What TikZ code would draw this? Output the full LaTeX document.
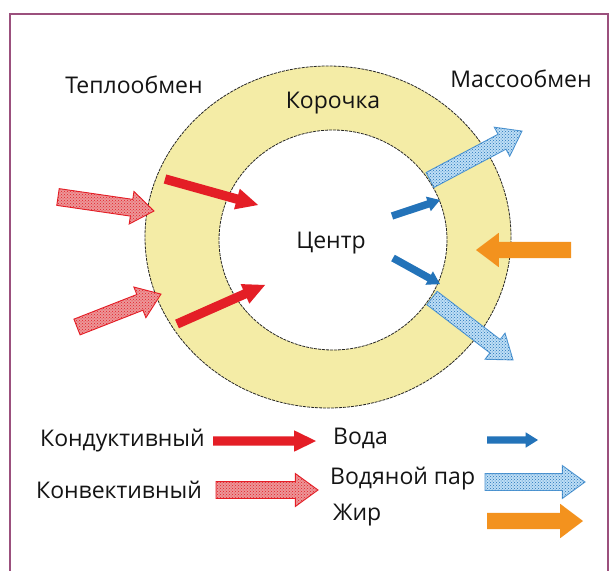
\documentclass[tikz,border=0pt]{standalone}
\usepackage{fontspec}
\setmainfont{Open Sans}
\usetikzlibrary{shapes.arrows,patterns}
\definecolor{framec}{RGB}{155,80,125}
\definecolor{ringc}{RGB}{244,236,166}
\definecolor{hotred}{RGB}{228,30,38}
\definecolor{waterc}{RGB}{35,115,185}
\definecolor{vapfill}{RGB}{190,222,245}
\definecolor{vapline}{RGB}{80,150,210}
\definecolor{fatc}{RGB}{243,146,30}
\definecolor{pinkc}{RGB}{236,150,152}
\definecolor{txtc}{RGB}{20,20,20}
\begin{document}
\begin{tikzpicture}[x=1pt,y=-1pt,
  blk/.style n args={4}{single arrow, minimum height=#1, minimum width=0pt,
     inner xsep=0pt, inner ysep=#2, single arrow head extend=#3,
     single arrow tip angle=#4, outer sep=0pt, anchor=tail},
  cond/.style={blk={#1}{4.5pt}{6pt}{52}, fill=hotred, draw=none},
  conv/.style={blk={#1}{8pt}{8pt}{72}, draw=hotred, line width=0.9pt, fill=pinkc,
     postaction={pattern=crosshatch dots, pattern color=hotred}},
  water/.style={blk={#1}{3.5pt}{4pt}{64}, fill=waterc, draw=none},
  vapor/.style={blk={#1}{8pt}{8pt}{72}, draw=vapline, line width=0.9pt, fill=vapfill,
     postaction={pattern=crosshatch dots, pattern color=waterc}},
  fat/.style={blk={#1}{8pt}{9pt}{74}, fill=fatc, draw=none},
  lab/.style={font=\fontsize{23}{27}\selectfont, text=txtc, inner sep=0pt},
  ringline/.style={draw=black!85, line width=0.8pt, dash pattern=on 3pt off 1pt}
]
\useasboundingbox (0,0) rectangle (614,571);
\fill[white] (0,0) rectangle (614,571);
% frame
\draw[framec, line width=2pt] (10,580) -- (10,14) -- (608,14) -- (608,580);
% ring
\fill[ringc, even odd rule] (328,237) ellipse [x radius=183, y radius=171]
                            (333,240) ellipse [x radius=114, y radius=110];
\draw[ringline] (328,237) ellipse [x radius=183, y radius=171];
\draw[ringline] (333,240) ellipse [x radius=114, y radius=110];

% labels
\node[lab] (heat) at (134,85) {Теплообмен};
\node[lab] (crust) at (333,103) {Корочка};
\node[lab] (mass) at (521,79) {Массообмен};
\node[lab] (core) at (331,243) {Центр};

% heat transfer arrows
\node[cond={96.6pt}, rotate=-15.6] (r1) at (165,179) {};
\node[cond={96.3pt}, rotate=23.9] (r2) at (177,324) {};
\node[conv={97pt}, rotate=-8.3] (c1) at (58,197) {};
\node[conv={90.2pt}, rotate=21.4] (c2) at (77,327) {};

% mass transfer arrows
\node[water={50.6pt}, rotate=18.4] (w1) at (392,216) {};
\node[water={53.7pt}, rotate=-29.0] (w2) at (393,258) {};
\node[vapor={104.2pt}, rotate=28.0] (v1) at (430,180) {};
\node[vapor={102pt}, rotate=-37.4] (v2) at (432,298) {};
\node[fat={95pt}, rotate=180] (f1) at (571,250) {};

% legend
\node[lab, anchor=west] (lcond) at (40,441) {Кондуктивный};
\node[lab, anchor=west] (lconv) at (36,490) {Конвективный};
\node[lab, anchor=west] (lwat) at (333,438) {Вода};
\node[lab, anchor=west] (lvap) at (330,479) {Водяной пар};
\node[lab, anchor=west] (lfat) at (333,515) {Жир};

\node[cond={103pt}] (kr) at (213,441) {};
\node[conv={102pt}] (kc) at (216,490) {};
\node[water={51pt}] (kw) at (487,440) {};
\node[vapor={100pt}] (kv) at (485,482) {};
\node[fat={96pt}] (kf) at (487,521) {};
\end{tikzpicture}
\end{document}
